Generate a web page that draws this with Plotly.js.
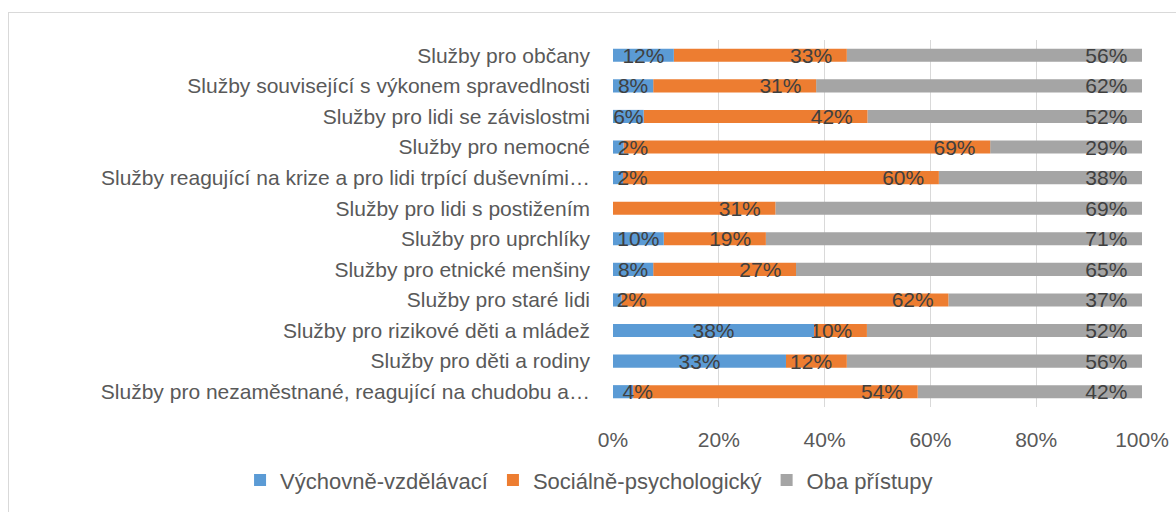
<!DOCTYPE html>
<html><head><meta charset="utf-8">
<script src="https://cdn.plot.ly/plotly-3.0.1.min.js"></script>
<style>
html,body{margin:0;padding:0;background:#fff;overflow:hidden;width:1176px;height:512px;}
#frame{position:absolute;left:8px;top:12px;width:1300px;height:700px;border:1px solid #d9d9d9;box-sizing:border-box;}
#chart{position:absolute;left:0;top:0;width:1176px;height:512px;}
</style></head><body>
<div id="frame"></div>
<div id="chart"></div>
<script>
const categories = [
  "Služby pro občany",
  "Služby související s výkonem spravedlnosti",
  "Služby pro lidi se závislostmi",
  "Služby pro nemocné",
  "Služby reagující na krize a pro lidi trpící duševními…",
  "Služby pro lidi s postižením",
  "Služby pro uprchlíky",
  "Služby pro etnické menšiny",
  "Služby pro staré lidi",
  "Služby pro rizikové děti a mládež",
  "Služby pro děti a rodiny",
  "Služby pro nezaměstnané, reagující na chudobu a…"
];
const seriesNames = ["Výchovně-vzdělávací", "Sociálně-psychologický", "Oba přístupy"];
const vychovne = [0.115, 0.076, 0.058, 0.020, 0.019, 0.000, 0.096, 0.076, 0.016, 0.380, 0.327, 0.038];
const socialne = [0.327, 0.308, 0.423, 0.693, 0.597, 0.307, 0.193, 0.270, 0.618, 0.100, 0.115, 0.538];
const oba      = [0.558, 0.616, 0.519, 0.287, 0.384, 0.693, 0.711, 0.654, 0.366, 0.520, 0.558, 0.424];
const colors = ["#5B9BD5", "#ED7D31", "#A5A5A5"];

const FONT = "Liberation Sans, Arial, sans-serif";
const NB = "\u00a0";
const pct = v => Math.round(v * 100) + "%";

// Excel keeps labels of very thin first segments inside the plot area
function labelFirst(v) {
  if (!(v > 0)) return "";
  return (v < 0.05 ? NB.repeat(5) : "") + pct(v);
}
function labelEnd(v) {
  return v > 0 ? pct(v) + NB + NB : "";
}

// stacking bases (so the first series can be drawn last, with its labels on top)
const baseBlue = vychovne.map(() => 0);
const baseOrange = vychovne.slice();
const baseGray = vychovne.map((v, k) => v + socialne[k]);

function mk(vals, base, i, anchor, fmt) {
  return {
    type: "bar", orientation: "h", name: seriesNames[i], legendrank: i + 1,
    y: categories, x: vals, base: base,
    marker: {color: colors[i], line: {width: 0}},
    text: vals.map(fmt),
    textposition: "inside", insidetextanchor: anchor,
    textangle: 0, constraintext: "none", cliponaxis: false,
    textfont: {family: FONT, size: 21, color: "#404040"},
    hoverinfo: "skip"
  };
}

const data = [
  mk(oba, baseGray, 2, "end", labelEnd),
  mk(socialne, baseOrange, 1, "end", labelEnd),
  mk(vychovne, baseBlue, 0, "middle", labelFirst)
];

const layout = {
  width: 1176, height: 512,
  paper_bgcolor: "rgba(0,0,0,0)", plot_bgcolor: "rgba(0,0,0,0)",
  margin: {l: 613, r: 34, t: 40, b: 104, pad: 0},
  barmode: "overlay", bargap: 0.57,
  font: {family: FONT, size: 21, color: "#595959"},
  showlegend: true,
  legend: {orientation: "h", x: -0.705, xanchor: "left", y: -0.196, yanchor: "middle",
           font: {family: FONT, size: 22, color: "#595959"}, traceorder: "normal"},
  xaxis: {range: [0, 1], dtick: 0.2, tick0: 0, tickformat: ".0%", showgrid: true,
          gridcolor: "#d9d9d9", gridwidth: 1, zeroline: false, showline: false,
          ticks: "", ticklabelstandoff: 18, fixedrange: true, automargin: false,
          tickfont: {family: FONT, size: 21, color: "#595959"}},
  yaxis: {type: "category", autorange: "reversed", showgrid: false, zeroline: false,
          showline: false, ticks: "", ticklabelstandoff: 22, fixedrange: true, automargin: false,
          tickfont: {family: FONT, size: 21, color: "#595959"}}
};

Plotly.newPlot("chart", data, layout, {staticPlot: true, displayModeBar: false});
</script>
</body></html>
